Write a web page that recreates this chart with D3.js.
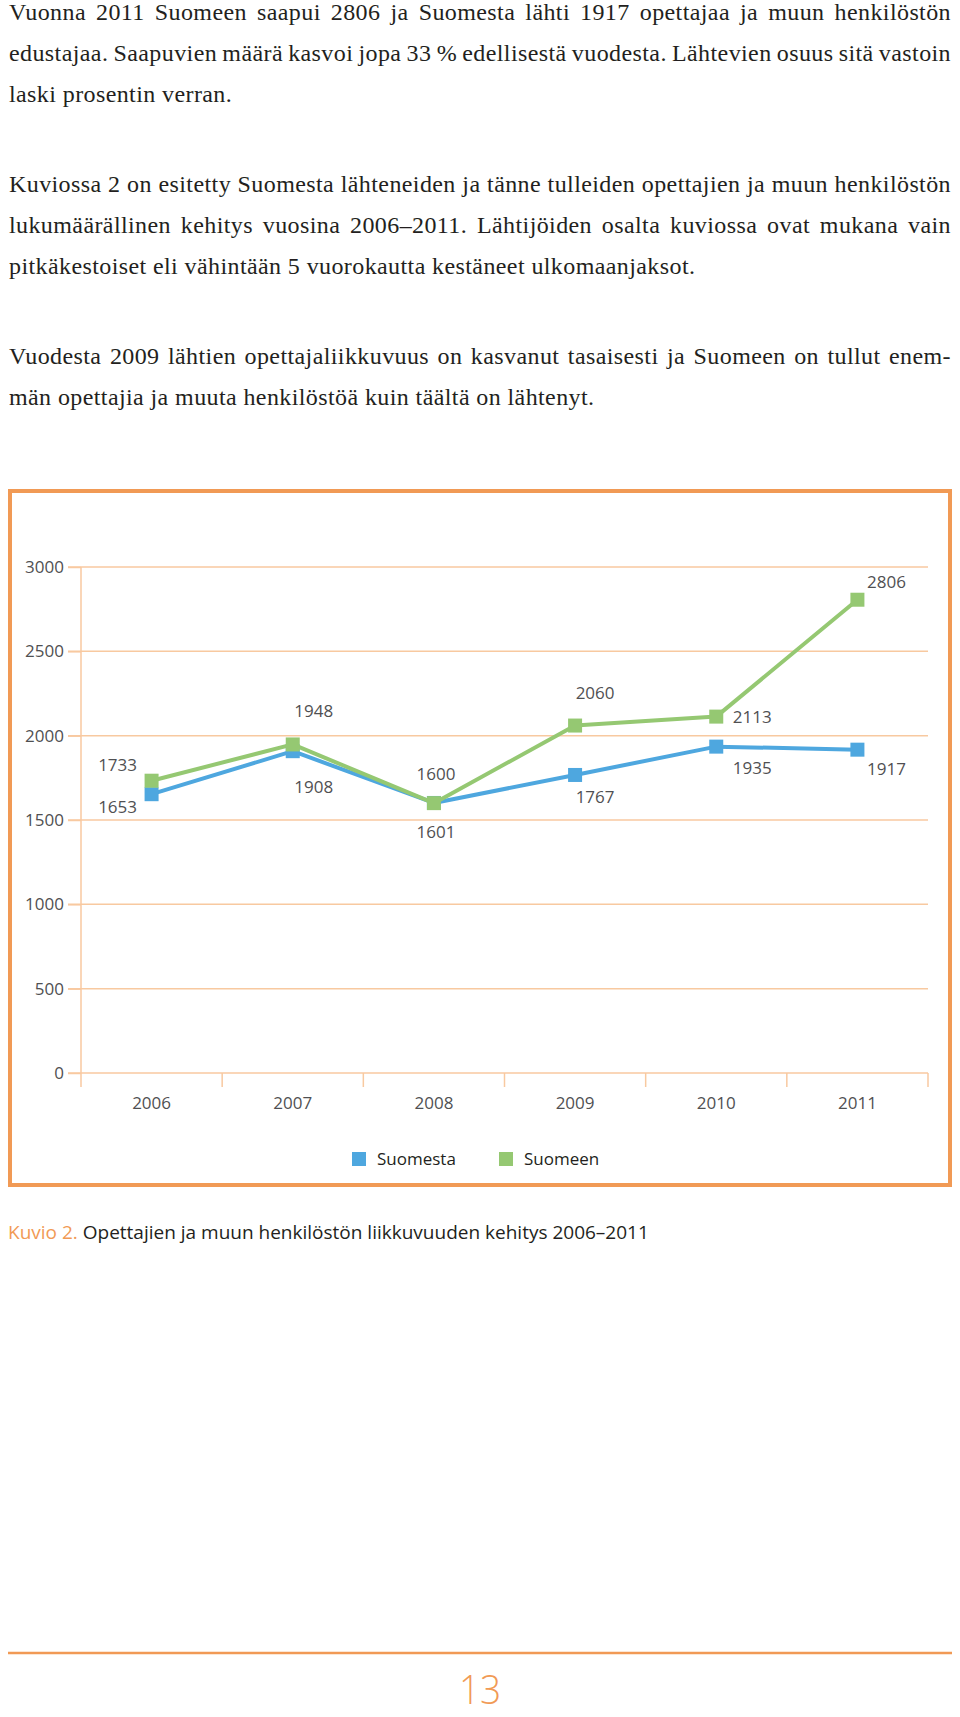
<!DOCTYPE html>
<html>
<head>
<meta charset="utf-8">
<script src="https://cdn.jsdelivr.net/npm/d3@7"></script>
<style>
  html, body { margin: 0; padding: 0; background: #fff; }
  svg { display: block; }
</style>
</head>
<body>
<svg id="page" width="960" height="1717"></svg>
<script>
// ---- data ----
const years = ["2006", "2007", "2008", "2009", "2010", "2011"];
const suomesta = [1653, 1908, 1601, 1767, 1935, 1917];
const suomeen = [1733, 1948, 1600, 2060, 2113, 2806];
const seriesNames = ["Suomesta", "Suomeen"];
const yTicks = [0, 500, 1000, 1500, 2000, 2500, 3000];

const paragraph1 = [
  "Vuonna 2011 Suomeen saapui 2806 ja Suomesta lähti 1917 opettajaa ja muun henkilöstön",
  "edustajaa. Saapuvien määrä kasvoi jopa 33 % edellisestä vuodesta. Lähtevien osuus sitä vastoin",
  "laski prosentin verran."
];
const paragraph2 = [
  "Kuviossa 2 on esitetty Suomesta lähteneiden ja tänne tulleiden opettajien ja muun henkilöstön",
  "lukumäärällinen kehitys vuosina 2006–2011. Lähtijöiden osalta kuviossa ovat mukana vain",
  "pitkäkestoiset eli vähintään 5 vuorokautta kestäneet ulkomaanjaksot."
];
const paragraph3 = [
  "Vuodesta 2009 lähtien opettajaliikkuvuus on kasvanut tasaisesti ja Suomeen on tullut enem-",
  "män opettajia ja muuta henkilöstöä kuin täältä on lähtenyt."
];
const captionLead = "Kuvio 2.";
const captionText = "Opettajien ja muun henkilöstön liikkuvuuden kehitys 2006–2011";
const pageNumber = "13";

// ---- drawing ----
const svg = d3.select("#page");
const ORANGE = "#f19a55";
const GRID = "#f8c9a0";
const BLUE = "#4ea7df";
const GREEN = "#95c872";
const TEXT = "#231f20";
const TICK = "#505052";
const SANS = "'Open Sans', 'Noto Sans', sans-serif";

// body text paragraphs
const textLeft = 9, textRight = 951;
const paragraphs = [
  { lines: paragraph1, baseline: 20 },
  { lines: paragraph2, baseline: 192 },
  { lines: paragraph3, baseline: 364 }
];
const lineGap = 41;
paragraphs.forEach(p => {
  p.lines.forEach((ln, i) => {
    const t = svg.append("text")
      .attr("x", textLeft)
      .attr("y", p.baseline + i * lineGap)
      .attr("font-family", "'Liberation Serif', 'Times New Roman', serif")
      .attr("font-size", 24)
      .style("letter-spacing", "0.4px")
      .attr("fill", TEXT)
      .text(ln);
    if (i < p.lines.length - 1) {
      const L = t.node().getComputedTextLength();
      const gaps = (ln.match(/ /g) || []).length;
      if (gaps > 0) t.style("word-spacing", ((textRight - textLeft - L) / gaps) + "px");
    }
  });
});

// frame
svg.append("rect")
  .attr("x", 10).attr("y", 491)
  .attr("width", 940).attr("height", 694)
  .attr("fill", "none")
  .attr("stroke", ORANGE)
  .attr("stroke-width", 4);

// scales
const x = d3.scaleBand().domain(years).range([81, 928]);
const y = d3.scaleLinear().domain([0, 3000]).range([1073, 567]);
const cx = d => x(d) + x.bandwidth() / 2;

// gridlines
svg.append("g").selectAll("line").data(yTicks).join("line")
  .attr("x1", 68).attr("x2", 928)
  .attr("y1", d => y(d)).attr("y2", d => y(d))
  .attr("stroke", GRID).attr("stroke-width", 1.5);

// y axis
const yAxis = svg.append("g")
  .attr("transform", "translate(81,0)")
  .call(d3.axisLeft(y).tickValues(yTicks).tickSize(13).tickPadding(4).tickFormat(d3.format("d")));
yAxis.select(".domain").remove();
yAxis.selectAll(".tick line").attr("stroke", GRID).attr("stroke-width", 1.5);
yAxis.selectAll(".tick text")
  .attr("font-family", SANS).attr("font-size", 17).attr("fill", TICK);

// vertical axis line
svg.append("line")
  .attr("x1", 81).attr("x2", 81)
  .attr("y1", y(3000)).attr("y2", y(0) + 14)
  .attr("stroke", GRID).attr("stroke-width", 1.5);

// x band boundary ticks
const bounds = years.map(d => x(d)).concat([x(years[years.length - 1]) + x.bandwidth()]);
svg.append("g").selectAll("line").data(bounds.slice(1)).join("line")
  .attr("x1", d => d).attr("x2", d => d)
  .attr("y1", y(0)).attr("y2", y(0) + 14)
  .attr("stroke", GRID).attr("stroke-width", 1.5);

// x axis labels
const xAxis = svg.append("g")
  .attr("transform", `translate(0,${y(0)})`)
  .call(d3.axisBottom(x).tickSize(0).tickPadding(24));
xAxis.select(".domain").remove();
xAxis.selectAll(".tick text")
  .attr("font-family", SANS).attr("font-size", 17).attr("fill", TICK);

// series
const series = [
  { name: seriesNames[0], values: suomesta, color: BLUE },
  { name: seriesNames[1], values: suomeen, color: GREEN }
];
const line = d3.line().x((d, i) => cx(years[i])).y(d => y(d));
const ms = 14;

// label placement (dx, dy relative to the marker)
const labelPos = {
  Suomesta: [[-34, 13], [21, 36], [2, 29], [20, 22], [36, 21], [29, 19]],
  Suomeen: [[-34, -16], [21, -33], [2, -29], [20, -32], [36, 0], [29, -18]]
};

series.forEach(s => {
  const g = svg.append("g");
  g.append("path")
    .attr("d", line(s.values))
    .attr("fill", "none")
    .attr("stroke", s.color)
    .attr("stroke-width", 4)
    .attr("stroke-linejoin", "round");
  g.selectAll("rect").data(s.values).join("rect")
    .attr("x", (d, i) => cx(years[i]) - ms / 2)
    .attr("y", d => y(d) - ms / 2)
    .attr("width", ms).attr("height", ms)
    .attr("fill", s.color);
});
series.forEach(s => {
  svg.append("g").selectAll("text").data(s.values).join("text")
    .attr("x", (d, i) => cx(years[i]) + labelPos[s.name][i][0])
    .attr("y", (d, i) => y(d) + labelPos[s.name][i][1])
    .attr("dy", "0.35em")
    .attr("text-anchor", "middle")
    .attr("font-family", SANS).attr("font-size", 17).attr("fill", TICK)
    .text(d => d);
});

// legend
const legendX = [352, 499];
series.forEach((s, i) => {
  svg.append("rect")
    .attr("x", legendX[i]).attr("y", 1152)
    .attr("width", 14).attr("height", 14)
    .attr("fill", s.color);
  svg.append("text")
    .attr("x", legendX[i] + 25).attr("y", 1159)
    .attr("dy", "0.35em")
    .attr("font-family", SANS).attr("font-size", 17).attr("fill", TEXT)
    .text(s.name);
});

// caption
const cap = svg.append("text")
  .attr("x", 8).attr("y", 1239)
  .attr("font-family", SANS).attr("font-size", 19).attr("fill", TEXT);
cap.append("tspan").attr("fill", ORANGE).text(captionLead);
cap.append("tspan").text(" " + captionText);

// footer
svg.append("line")
  .attr("x1", 8).attr("x2", 952)
  .attr("y1", 1653).attr("y2", 1653)
  .attr("stroke", ORANGE).attr("stroke-width", 2.5);
svg.append("text")
  .attr("transform", "translate(480,1704) scale(1,1.1)")
  .attr("text-anchor", "middle")
  .attr("font-family", SANS).attr("font-weight", 300)
  .attr("font-size", 37).attr("fill", ORANGE)
  .text(pageNumber);
</script>
</body>
</html>
